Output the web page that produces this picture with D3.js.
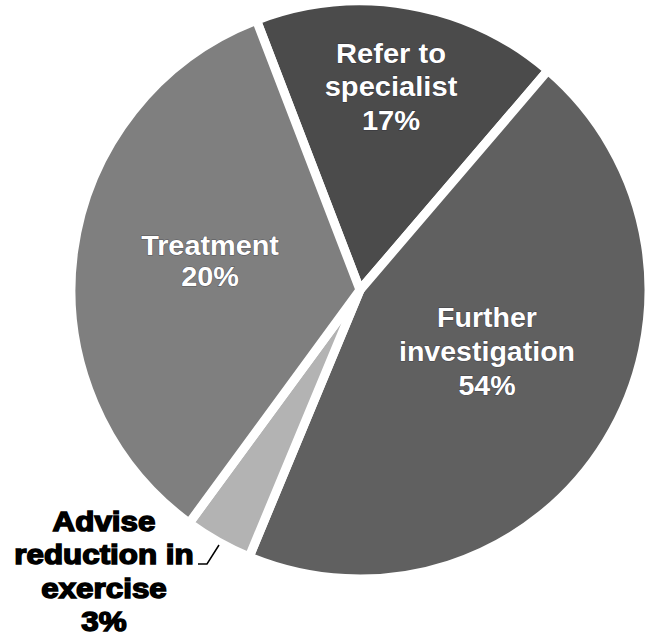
<!DOCTYPE html>
<html>
<head>
<meta charset="utf-8">
<script src="https://cdn.jsdelivr.net/npm/d3@7"></script>
<style>
  html, body { margin: 0; padding: 0; background: #ffffff; }
  svg { display: block; }
  text { font-family: "Liberation Sans", Arial, sans-serif; font-weight: bold; }
</style>
</head>
<body>
<svg id="chart" width="647" height="638"></svg>
<script>
const categories = ["Refer to specialist", "Further investigation", "Advise reduction in exercise", "Treatment"];
const sliceValues = [17.1, 45.0, 3.8, 34.1];
const labelLines = [
  ["Refer to", "specialist", "17%"],
  ["Further", "investigation", "54%"],
  ["Advise", "reduction in", "exercise", "3%"],
  ["Treatment", "20%"]
];

// ---- styling / layout ----
const fills = ["#4b4b4b", "#606060", "#b3b3b3", "#7f7f7f"];
const textFills = ["#ffffff", "#ffffff", "#000000", "#ffffff"];
const cx = 360, cy = 290, R = 289;
const startDeg = -21;
const labelPos = [[391, 63], [487, 327], [104, 531], [210, 255]]; // first baseline
const lineH = [33.5, 34, 33.5, 31];
const xScale = [1.04, 1.02, 1.12, 1.03];

const svg = d3.select("#chart");
const g = svg.append("g").attr("transform", `translate(${cx},${cy})`);

const pie = d3.pie()
  .sort(null)
  .value(d => d)
  .startAngle(startDeg * Math.PI / 180)
  .endAngle(startDeg * Math.PI / 180 + 2 * Math.PI);

const arc = d3.arc().innerRadius(0).outerRadius(R);
const arcs = pie(sliceValues);

g.selectAll("path.slice")
  .data(arcs)
  .join("path")
  .attr("class", "slice")
  .attr("d", arc)
  .attr("fill", (d, i) => fills[i])
  .attr("stroke", "#ffffff")
  .attr("stroke-width", 9)
  .attr("stroke-linejoin", "miter");

// labels
const lg = svg.append("g");
labelLines.forEach((lines, i) => {
  const t = lg.append("text")
    .attr("transform", `translate(${labelPos[i][0]},${labelPos[i][1]}) scale(${xScale[i]},1)`)
    .attr("text-anchor", "middle")
    .attr("font-size", 28)
    .attr("fill", textFills[i]);
  if (i === 2) {
    t.attr("stroke", "#000").attr("stroke-width", 1.5);
  } else {
    t.style("paint-order", "stroke").attr("stroke", "rgba(20,20,40,0.45)").attr("stroke-width", 1);
  }
  lines.forEach((ln, k) => {
    t.append("tspan")
      .attr("x", 0)
      .attr("y", k * lineH[i])
      .text(ln);
  });
});

// leader line for the small slice
lg.append("polyline")
  .attr("points", [[198, 564], [207, 564], [219, 545]].map(p => p.join(",")).join(" "))
  .attr("fill", "none")
  .attr("stroke", "#000")
  .attr("stroke-width", 1.5);
</script>
</body>
</html>
